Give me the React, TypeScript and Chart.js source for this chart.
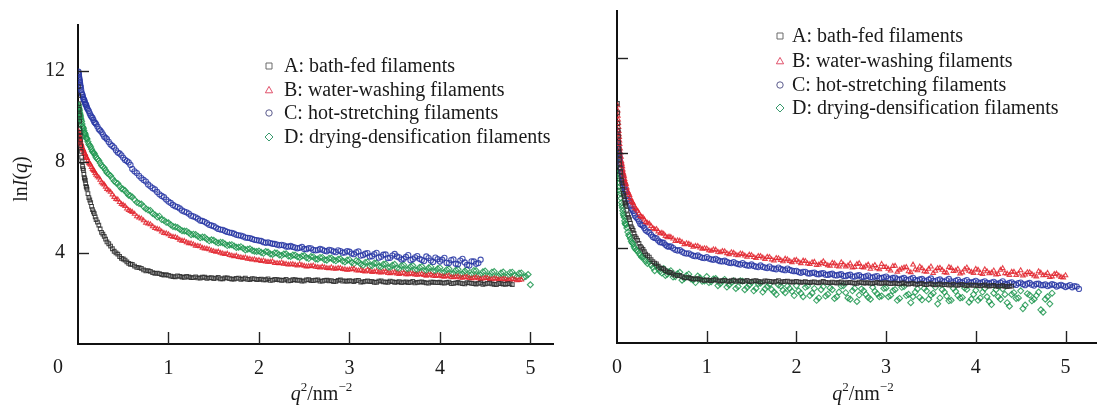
import React, { useEffect, useRef } from "react";
import { Chart, registerables } from "chart.js";

Chart.register(...registerables);

const FONT = "'Liberation Serif', 'Times New Roman', Times, serif";

// q^2 (nm^-2) sampling grid (main samples)
const qGrid = [
  0.005, 0.01, 0.015, 0.02, 0.025, 0.03, 0.04, 0.05, 0.06, 0.07, 0.08, 0.09,
  0.1, 0.12, 0.14, 0.16, 0.18, 0.2, 0.23, 0.26, 0.29, 0.32, 0.36, 0.4, 0.44,
  0.48, 0.52, 0.56, 0.6, 0.65, 0.7, 0.75, 0.8, 0.85, 0.9, 0.95,
  1, 1.05, 1.1, 1.15, 1.2, 1.25, 1.3, 1.35, 1.4, 1.45, 1.5, 1.55, 1.6, 1.65, 1.7, 1.75, 1.8, 1.85, 1.9, 1.95,
  2, 2.05, 2.1, 2.15, 2.2, 2.25, 2.3, 2.35, 2.4, 2.45, 2.5, 2.55, 2.6, 2.65, 2.7, 2.75, 2.8, 2.85, 2.9, 2.95,
  3, 3.05, 3.1, 3.15, 3.2, 3.25, 3.3, 3.35, 3.4, 3.45, 3.5, 3.55, 3.6, 3.65, 3.7, 3.75, 3.8, 3.85, 3.9, 3.95,
  4, 4.05, 4.1, 4.15, 4.2, 4.25, 4.3, 4.35, 4.4, 4.45, 4.5, 4.55, 4.6, 4.65, 4.7, 4.75, 4.8, 4.85, 4.9, 4.95,
  5, 5.05, 5.1, 5.15, 5.2,
];
// in-between samples
const qMid = [
  0.42, 0.46, 0.5, 0.54, 0.58, 0.625, 0.675, 0.725, 0.775, 0.825, 0.875, 0.925, 0.975,
  1.025, 1.075, 1.125, 1.175, 1.225, 1.275, 1.325, 1.375, 1.425, 1.475, 1.525, 1.575, 1.625, 1.675, 1.725, 1.775, 1.825, 1.875, 1.925, 1.975,
  2.025, 2.075, 2.125, 2.175, 2.225, 2.275, 2.325, 2.375, 2.425, 2.475, 2.525, 2.575, 2.625, 2.675, 2.725, 2.775, 2.825, 2.875, 2.925, 2.975,
  3.025, 3.075, 3.125, 3.175, 3.225, 3.275, 3.325, 3.375, 3.425, 3.475, 3.525, 3.575, 3.625, 3.675, 3.725, 3.775, 3.825, 3.875, 3.925, 3.975,
  4.025, 4.075, 4.125, 4.175, 4.225, 4.275, 4.325, 4.375, 4.425, 4.475, 4.525, 4.575, 4.625, 4.675, 4.725, 4.775, 4.825, 4.875, 4.925, 4.975,
  5.025, 5.075, 5.125, 5.175,
];
// extra samples in the steep low-q region
const qEarly = [
  0.0075, 0.0125, 0.0175, 0.0225, 0.0275, 0.035, 0.045, 0.055, 0.065, 0.075, 0.085, 0.095,
  0.11, 0.13, 0.15, 0.17, 0.19, 0.215, 0.245, 0.275, 0.305, 0.34, 0.38,
];

const seriesLabels = [
  "A: bath-fed filaments",
  "B: water-washing filaments",
  "C: hot-stretching filaments",
  "D: drying-densification filaments",
];

const xTickValues = [0, 1, 2, 3, 4, 5];
const yTickValues = [4, 8, 12];

// ---- Left panel: lnI(q) ----
const leftA = [
  11.3, 10.55, 10.05, 9.45, 9.15, 8.7, 8.2, 7.8, 7.62, 7.3, 7.18, 6.92, 6.8, 6.42, 6.2, 5.9, 5.72, 5.46,
  5.22, 4.9, 4.72, 4.48, 4.3, 4.07, 3.94, 3.76, 3.68, 3.54, 3.49, 3.36, 3.32, 3.21, 3.19, 3.1, 3.09, 3.02,
  3.01, 2.96, 2.99, 2.94, 2.97, 2.91, 2.95, 2.89, 2.93, 2.9, 2.87, 2.92, 2.86, 2.9, 2.85, 2.88, 2.84, 2.89, 2.83, 2.86,
  2.84, 2.81, 2.86, 2.8, 2.83, 2.79, 2.84, 2.78, 2.82, 2.8, 2.77, 2.83, 2.78, 2.81, 2.76, 2.8, 2.78, 2.75, 2.81, 2.77,
  2.78, 2.74, 2.79, 2.73, 2.77, 2.75, 2.71, 2.77, 2.72, 2.76, 2.7, 2.74, 2.72, 2.69, 2.75, 2.7, 2.73, 2.68, 2.72, 2.7,
  2.71, 2.67, 2.72, 2.66, 2.7, 2.65, 2.69, 2.66, 2.63, 2.68, 2.64, 2.67, 2.62, 2.66, 2.63, 2.65, 2.61,
];
const leftAMid = [
  4.0, 3.84, 3.73, 3.6, 3.5, 3.42, 3.35, 3.25, 3.22, 3.13, 3.11, 3.05, 3.04,
  2.98, 2.95, 2.97, 2.92, 2.94, 2.91, 2.9, 2.93, 2.88, 2.91, 2.89, 2.86, 2.9, 2.87, 2.85, 2.89, 2.86, 2.84, 2.87, 2.83,
  2.85, 2.82, 2.79, 2.84, 2.81, 2.8, 2.77, 2.82, 2.79, 2.76, 2.81, 2.78, 2.8, 2.76, 2.79, 2.77, 2.74, 2.79, 2.76, 2.75,
  2.76, 2.78, 2.72, 2.75, 2.74, 2.7, 2.76, 2.73, 2.71, 2.74, 2.72, 2.69, 2.73, 2.71, 2.68, 2.72, 2.7, 2.67, 2.71, 2.69,
  2.68, 2.7, 2.65, 2.68, 2.67, 2.64, 2.68, 2.65, 2.66, 2.62, 2.66, 2.64, 2.61, 2.65, 2.62, 2.64,
];
const leftAEarly = [
  10.9, 10.3, 9.78, 9.28, 8.95, 8.45, 8.0, 7.7, 7.45, 7.25, 7.04, 6.87,
  6.6, 6.32, 6.04, 5.8, 5.58, 5.35, 5.05, 4.82, 4.6, 4.4, 4.18,
];
const leftB = [
  9.35, 9.18, 9.12, 8.98, 8.95, 8.82, 8.74, 8.57, 8.52, 8.37, 8.33, 8.19, 8.16, 7.95, 7.86, 7.67, 7.59, 7.42,
  7.3, 7.09, 6.99, 6.8, 6.67, 6.45, 6.34, 6.14, 6.05, 5.87, 5.79, 5.6, 5.5, 5.32, 5.25, 5.08, 5.02, 4.87,
  4.81, 4.7, 4.64, 4.53, 4.46, 4.41, 4.31, 4.28, 4.19, 4.15, 4.07, 4.05, 3.97, 3.96, 3.88, 3.87, 3.8, 3.79, 3.73, 3.71,
  3.68, 3.66, 3.6, 3.62, 3.55, 3.57, 3.51, 3.49, 3.47, 3.5, 3.43, 3.41, 3.44, 3.37, 3.39, 3.33, 3.36, 3.3, 3.33, 3.27,
  3.26, 3.3, 3.22, 3.2, 3.25, 3.15, 3.19, 3.13, 3.17, 3.1, 3.14, 3.07, 3.12, 3.05, 3.08, 3.03, 3.07, 2.99, 3.04, 2.98,
  2.99, 2.95, 3.0, 2.92, 2.96, 2.9, 2.94, 2.87, 2.92, 2.85, 2.9, 2.84, 2.88, 2.82, 2.86, 2.8, 2.85, 2.79, 2.82,
];
const leftBMid = [
  6.36, 6.22, 6.1, 5.94, 5.83, 5.71, 5.54, 5.42, 5.28, 5.16, 5.05, 4.93, 4.85,
  4.73, 4.69, 4.57, 4.52, 4.42, 4.37, 4.3, 4.22, 4.18, 4.1, 4.04, 4.0, 3.94, 3.9, 3.85, 3.81, 3.78, 3.74, 3.7, 3.67,
  3.64, 3.61, 3.6, 3.55, 3.54, 3.52, 3.48, 3.5, 3.44, 3.46, 3.4, 3.42, 3.38, 3.35, 3.36, 3.32, 3.31, 3.33, 3.28, 3.25,
  3.28, 3.23, 3.24, 3.18, 3.2, 3.17, 3.14, 3.16, 3.11, 3.13, 3.09, 3.1, 3.06, 3.09, 3.04, 3.05, 3.02, 3.03, 2.99, 3.01,
  2.97, 2.98, 2.93, 2.95, 2.91, 2.93, 2.89, 2.9, 2.88, 2.87, 2.89, 2.84, 2.86, 2.83, 2.84, 2.81, 2.83, 2.8,
];
const leftBEarly = [
  9.26, 9.15, 9.05, 8.96, 8.88, 8.78, 8.65, 8.54, 8.44, 8.35, 8.26, 8.17,
  8.05, 7.9, 7.76, 7.63, 7.5, 7.36, 7.2, 7.04, 6.9, 6.74, 6.56,
];
const leftC = [
  11.95, 11.82, 11.64, 11.52, 11.37, 11.26, 11.03, 10.92, 10.76, 10.69, 10.55, 10.49, 10.36, 10.22, 10.03, 9.92, 9.74, 9.65,
  9.43, 9.3, 9.1, 8.99, 8.76, 8.62, 8.4, 8.28, 8.08, 7.97, 7.68, 7.5, 7.28, 7.13, 6.92, 6.78, 6.57, 6.44,
  6.25, 6.1, 6.01, 5.86, 5.78, 5.63, 5.56, 5.42, 5.36, 5.23, 5.17, 5.05, 5.01, 4.92, 4.88, 4.79, 4.76, 4.67, 4.65, 4.57,
  4.54, 4.47, 4.46, 4.4, 4.36, 4.35, 4.28, 4.3, 4.23, 4.22, 4.17, 4.21, 4.13, 4.12, 4.14, 4.07, 4.11, 4.03, 4.08, 4.02,
  4.05, 3.94, 4.06, 3.9, 3.99, 3.85, 4.0, 3.83, 3.93, 3.78, 3.95, 3.8, 3.74, 3.9, 3.72, 3.86, 3.69, 3.84, 3.66, 3.79,
  3.62, 3.78, 3.55, 3.71, 3.5, 3.74, 3.47, 3.63, 3.52, 3.7,
];
const leftCMid = [
  8.5, 8.36, 8.17, 8.03, 7.86, 7.58, 7.38, 7.2, 7.0, 6.84, 6.67, 6.5, 6.34,
  6.19, 6.04, 5.95, 5.81, 5.72, 5.6, 5.5, 5.4, 5.3, 5.2, 5.11, 5.02, 4.96, 4.89, 4.84, 4.77, 4.72, 4.66, 4.61, 4.56,
  4.52, 4.44, 4.43, 4.39, 4.33, 4.33, 4.27, 4.26, 4.2, 4.26, 4.16, 4.2, 4.11, 4.17, 4.09, 4.13, 4.06, 4.11, 4.01, 4.08,
  3.97, 4.02, 3.88, 3.96, 3.84, 3.94, 3.79, 3.92, 3.77, 3.88, 3.84, 3.71, 3.82, 3.68, 3.8, 3.74, 3.64, 3.77, 3.6, 3.72,
  3.7, 3.56, 3.68, 3.52, 3.66, 3.58, 3.45, 3.62, 3.55,
];
const leftCEarly = [
  11.88, 11.72, 11.58, 11.45, 11.31, 11.15, 10.97, 10.84, 10.72, 10.62, 10.52, 10.42,
  10.29, 10.12, 9.97, 9.83, 9.7, 9.54, 9.37, 9.2, 9.05, 8.87, 8.69,
];
const leftD = [
  10.5, 10.35, 10.25, 10.1, 10.02, 9.9, 9.76, 9.55, 9.46, 9.28, 9.21, 9.05, 9.0, 8.77, 8.65, 8.45, 8.36, 8.18,
  8.05, 7.83, 7.72, 7.52, 7.38, 7.15, 7.04, 6.82, 6.73, 6.53, 6.45, 6.22, 6.14, 5.94, 5.86, 5.67, 5.61, 5.43,
  5.32, 5.16, 5.11, 4.97, 4.95, 4.8, 4.8, 4.66, 4.68, 4.53, 4.55, 4.43, 4.45, 4.32, 4.36, 4.24, 4.27, 4.13, 4.18, 4.07,
  4.08, 3.98, 4.04, 3.93, 3.99, 3.88, 3.96, 3.84, 3.9, 3.8, 3.88, 3.75, 3.83, 3.72, 3.8, 3.68, 3.77, 3.65, 3.74, 3.6,
  3.7, 3.52, 3.62, 3.45, 3.6, 3.44, 3.56, 3.38, 3.52, 3.36, 3.5, 3.3, 3.47, 3.28, 3.44, 3.25, 3.4, 3.22, 3.38, 3.2,
  3.35, 3.15, 3.3, 3.1, 3.28, 3.08, 3.26, 3.05, 3.22, 3.04, 3.2, 3.0, 3.18, 2.98, 3.16, 2.97, 3.15, 2.95, 3.12, 2.96,
  2.6,
];
const leftDMid = [
  7.08, 6.92, 6.79, 6.63, 6.5, 6.33, 6.17, 6.03, 5.88, 5.73, 5.58, 5.46, 5.34,
  5.23, 5.14, 5.04, 4.96, 4.88, 4.82, 4.73, 4.69, 4.6, 4.57, 4.48, 4.46, 4.39, 4.35, 4.3, 4.25, 4.2, 4.16, 4.11, 4.06,
  4.02, 4.06, 3.95, 4.0, 3.91, 3.95, 3.86, 3.9, 3.83, 3.86, 3.79, 3.84, 3.73, 3.8, 3.7, 3.76, 3.69, 3.72, 3.64, 3.68,
  3.58, 3.66, 3.5, 3.58, 3.42, 3.55, 3.4, 3.5, 3.35, 3.46, 3.32, 3.44, 3.26, 3.4, 3.24, 3.36, 3.2, 3.34, 3.18, 3.3,
  3.12, 3.26, 3.08, 3.24, 3.05, 3.2, 3.02, 3.22, 3.0, 3.17, 2.98, 3.15, 2.96, 3.12, 2.94, 3.14, 3.0, 3.1, 2.92, 3.05,
];
const leftDEarly = [
  10.42, 10.3, 10.17, 10.06, 9.96, 9.83, 9.65, 9.5, 9.37, 9.25, 9.13, 9.02,
  8.88, 8.71, 8.55, 8.4, 8.27, 8.12, 7.94, 7.78, 7.62, 7.45, 7.26,
];

// ---- Right panel: lnI(q) ----
const rightA = [
  10.1, 9.25, 8.72, 8.2, 7.93, 7.55, 7.22, 6.86, 6.63, 6.31, 6.17, 5.92, 5.8, 5.41, 5.2, 4.9, 4.75, 4.5,
  4.33, 4.07, 3.95, 3.75, 3.62, 3.43, 3.34, 3.17, 3.12, 3.0, 2.97, 2.86, 2.85, 2.76, 2.76, 2.69, 2.71, 2.65,
  2.66, 2.63, 2.67, 2.61, 2.64, 2.6, 2.65, 2.62, 2.59, 2.64, 2.6, 2.63, 2.58, 2.62, 2.6, 2.57, 2.63, 2.59, 2.61, 2.57,
  2.6, 2.56, 2.59, 2.55, 2.58, 2.54, 2.6, 2.55, 2.57, 2.53, 2.58, 2.54, 2.56, 2.52, 2.57, 2.53, 2.55, 2.51, 2.56, 2.52,
  2.55, 2.5, 2.53, 2.49, 2.54, 2.48, 2.52, 2.47, 2.51, 2.46, 2.5, 2.45, 2.49, 2.46, 2.44, 2.48, 2.43, 2.47, 2.42, 2.45,
  2.44, 2.41, 2.45, 2.4, 2.43, 2.39, 2.42, 2.38, 2.4,
];
const rightAMid = [
  3.37, 3.24, 3.15, 3.05, 2.98, 2.91, 2.84, 2.8, 2.75, 2.72, 2.7, 2.68, 2.64,
  2.64, 2.65, 2.62, 2.63, 2.61, 2.63, 2.6, 2.62, 2.61, 2.59, 2.62, 2.6, 2.58, 2.61, 2.59, 2.6, 2.57, 2.6, 2.58, 2.58,
  2.58, 2.57, 2.56, 2.57, 2.55, 2.57, 2.56, 2.54, 2.55, 2.56, 2.53, 2.55, 2.54, 2.52, 2.55, 2.53, 2.51, 2.54, 2.52, 2.53,
  2.52, 2.51, 2.5, 2.52, 2.49, 2.5, 2.48, 2.5, 2.47, 2.48, 2.46, 2.47, 2.45, 2.47, 2.45, 2.44, 2.46, 2.43, 2.44, 2.43,
  2.42, 2.43, 2.41, 2.42, 2.4, 2.41, 2.39, 2.4,
];
const rightAEarly = [
  9.7, 8.98, 8.45, 8.06, 7.74, 7.38, 7.04, 6.75, 6.47, 6.24, 6.04, 5.86,
  5.6, 5.3, 5.05, 4.82, 4.62, 4.42, 4.2, 4.01, 3.85, 3.68, 3.52,
];
const rightB = [
  10.02, 9.58, 9.27, 8.93, 8.68, 8.38, 8.03, 7.66, 7.45, 7.18, 7.03, 6.8, 6.7, 6.39, 6.23, 5.99, 5.89, 5.69,
  5.57, 5.35, 5.29, 5.1, 5.03, 4.84, 4.8, 4.62, 4.6, 4.45, 4.46, 4.3, 4.31, 4.16, 4.18, 4.05, 4.08, 3.97,
  3.98, 3.88, 3.93, 3.82, 3.86, 3.74, 3.8, 3.69, 3.75, 3.63, 3.7, 3.58, 3.66, 3.54, 3.62, 3.47, 3.57, 3.44, 3.52, 3.4,
  3.5, 3.36, 3.45, 3.32, 3.42, 3.3, 3.44, 3.27, 3.38, 3.25, 3.4, 3.22, 3.35, 3.2, 3.36, 3.18, 3.3, 3.22, 3.15, 3.33,
  3.2, 3.05, 3.25, 3.08, 3.18, 3.02, 3.3, 3.06, 3.15, 3.0, 3.22, 3.04, 3.17, 2.98, 3.2, 3.03, 3.12, 2.97, 3.18, 3.0,
  3.12, 2.95, 3.1, 2.93, 3.05, 2.9, 3.15, 2.92, 3.0, 2.86, 3.06, 2.88, 2.98, 2.84, 3.02, 2.85, 2.95, 2.8, 2.92, 2.78,
  2.85,
];
const rightBMid = [
  4.79, 4.7, 4.64, 4.51, 4.48, 4.4, 4.32, 4.25, 4.2, 4.13, 4.09, 4.02, 3.99,
  3.9, 3.94, 3.84, 3.87, 3.78, 3.82, 3.72, 3.77, 3.68, 3.72, 3.62, 3.66, 3.6, 3.63, 3.52, 3.58, 3.49, 3.55, 3.45, 3.48,
  3.42, 3.47, 3.35, 3.4, 3.28, 3.37, 3.33, 3.25, 3.35, 3.22, 3.3, 3.26, 3.18, 3.32, 3.2, 3.25, 3.12, 3.28, 3.1, 3.2,
  3.12, 3.24, 3.0, 3.14, 3.2, 2.98, 3.1, 3.22, 3.02, 3.12, 2.95, 3.15, 3.08, 2.96, 3.16, 3.05, 2.92, 3.1, 3.04, 2.95,
  3.08, 2.9, 3.02, 2.96, 2.88, 3.08, 2.94, 2.86, 3.0, 2.92, 2.84, 2.98, 2.9, 2.8, 2.96, 2.86, 2.78, 2.9, 2.84, 2.76,
];
const rightBEarly = [
  9.8, 9.42, 9.1, 8.8, 8.53, 8.2, 7.85, 7.55, 7.31, 7.1, 6.91, 6.75,
  6.55, 6.31, 6.11, 5.94, 5.79, 5.63, 5.46, 5.32, 5.2, 5.06, 4.93,
];
const rightC = [
  8.92, 8.53, 8.33, 8.07, 7.97, 7.77, 7.53, 7.22, 7.06, 6.8, 6.68, 6.46, 6.38, 6.07, 5.92, 5.67, 5.57, 5.37,
  5.24, 5.02, 4.94, 4.75, 4.66, 4.47, 4.41, 4.25, 4.22, 4.08, 4.07, 3.93, 3.92, 3.79, 3.78, 3.68, 3.69, 3.59,
  3.62, 3.53, 3.55, 3.45, 3.47, 3.38, 3.41, 3.33, 3.37, 3.27, 3.31, 3.22, 3.27, 3.18, 3.22, 3.13, 3.18, 3.09, 3.14, 3.05,
  3.04, 2.96, 3.0, 2.93, 2.97, 2.9, 2.95, 2.87, 2.92, 2.85, 2.9, 2.82, 2.88, 2.8, 2.86, 2.78, 2.84, 2.76, 2.82, 2.74,
  2.8, 2.68, 2.76, 2.66, 2.74, 2.64, 2.75, 2.62, 2.7, 2.6, 2.72, 2.6, 2.68, 2.58, 2.7, 2.56, 2.66, 2.55, 2.65, 2.54,
  2.62, 2.52, 2.6, 2.5, 2.58, 2.48, 2.6, 2.47, 2.56, 2.45, 2.55, 2.44, 2.53, 2.42, 2.5, 2.44, 2.4, 2.48, 2.38, 2.45,
  2.36, 2.44, 2.4, 2.28,
];
const rightCMid = [
  4.43, 4.32, 4.24, 4.14, 4.06, 4.0, 3.9, 3.85, 3.77, 3.73, 3.66, 3.63, 3.58,
  3.56, 3.51, 3.49, 3.44, 3.42, 3.37, 3.36, 3.31, 3.3, 3.26, 3.25, 3.2, 3.21, 3.16, 3.15, 3.11, 3.12, 3.07, 3.08, 3.03,
  2.99, 3.0, 2.94, 2.96, 2.91, 2.93, 2.88, 2.9, 2.86, 2.88, 2.83, 2.86, 2.8, 2.84, 2.79, 2.81, 2.77, 2.8, 2.73, 2.77,
  2.72, 2.74, 2.69, 2.71, 2.67, 2.7, 2.66, 2.68, 2.63, 2.67, 2.62, 2.65, 2.61, 2.64, 2.6, 2.62, 2.58, 2.61, 2.57, 2.58,
  2.56, 2.57, 2.53, 2.55, 2.51, 2.54, 2.5, 2.53, 2.49, 2.52, 2.48, 2.5, 2.46, 2.49, 2.44, 2.47, 2.43, 2.45, 2.42, 2.41,
  2.4, 2.35, 2.38,
];
const rightCEarly = [
  8.72, 8.43, 8.2, 8.02, 7.87, 7.65, 7.37, 7.14, 6.93, 6.74, 6.57, 6.42,
  6.22, 6.0, 5.8, 5.62, 5.47, 5.3, 5.13, 4.98, 4.85, 4.7, 4.56,
];
const rightD = [
  8.6, 7.95, 7.6, 7.15, 6.95, 6.6, 6.3, 5.92, 5.7, 5.45, 5.3, 5.05, 4.98, 4.68, 4.5, 4.28, 4.18, 3.98,
  3.88, 3.7, 3.64, 3.44, 3.42, 3.18, 3.25, 3.02, 3.14, 2.9, 3.05, 2.8, 2.98, 2.72, 2.9, 2.66, 2.82, 2.6,
  2.8, 2.58, 2.72, 2.5, 2.68, 2.45, 2.62, 2.38, 2.6, 2.35, 2.55, 2.3, 2.52, 2.28, 2.48, 2.15, 2.45, 2.22, 2.4, 2.18,
  2.42, 2.1, 2.35, 2.0, 2.3, 1.9, 2.38, 2.05, 2.25, 1.95, 2.4, 2.12, 1.85, 2.3, 2.02, 2.2, 1.92, 2.35, 2.08, 1.98,
  2.32, 2.0, 2.25, 1.88, 2.38, 2.05, 1.95, 2.28, 1.82, 2.2, 2.02, 2.35, 1.9, 2.15, 1.78, 2.3, 2.0, 1.92, 2.26, 1.85,
  2.22, 1.9, 2.3, 1.75, 2.1, 1.95, 2.28, 1.7, 2.05, 1.88, 2.2, 1.6, 2.02, 1.85, 2.15, 1.3, 1.95, 2.1,
];
const rightDMid = [
  3.05, 3.12, 2.95, 2.85, 3.0, 2.78, 2.92, 2.65, 2.85, 2.7, 2.55, 2.75, 2.62,
  2.55, 2.7, 2.42, 2.6, 2.36, 2.55, 2.3, 2.62, 2.25, 2.45, 2.2, 2.5, 2.15, 2.38, 2.25, 2.05, 2.4, 2.12, 2.3, 2.0,
  2.2, 1.95, 2.4, 2.1, 1.8, 2.25, 1.98, 2.32, 1.88, 2.15, 2.42, 1.9, 2.2, 1.75, 2.28, 2.05, 1.85, 2.18, 1.95, 2.3,
  1.95, 2.2, 1.8, 2.35, 2.0, 1.7, 2.15, 1.92, 2.3, 1.85, 2.1, 1.65, 2.25, 1.98, 1.8, 2.18, 1.9, 2.32, 1.72, 2.05,
  1.8, 2.15, 1.95, 1.62, 2.25, 1.85, 2.05, 1.55, 2.12, 1.9, 1.45, 2.08, 1.78, 2.0, 1.4, 1.85, 1.65,
];
const rightDEarly = [
  8.25, 7.8, 7.35, 7.05, 6.75, 6.42, 6.1, 5.8, 5.58, 5.38, 5.15, 5.02,
  4.85, 4.55, 4.4, 4.22, 4.06, 3.92, 3.78, 3.62, 3.55, 3.35, 3.28,
];

const pointColors = [
  "rgba(45,45,45,0.85)",
  "rgba(226,35,45,0.85)",
  "rgba(40,55,165,0.85)",
  "rgba(30,150,80,0.85)",
];
const legendColors = ["#6a6a6a", "#e0506a", "#5a5a8c", "#3a9a6e"];
const markerStyles = ["rect", "triangle", "circle", "rectRot"];

type LegendSpec = { markerX: number; textX: number; rows: number[] };

type PanelProps = {
  left: number;
  width: number;
  height: number;
  series: number[][];
  seriesMid: number[][];
  seriesEarly: number[][];
  xMax: number;
  padding: { top: number; right: number; left: number; bottom: number };
  yAxisWidth: number;
  xAxisHeight: number;
  showYLabels: boolean;
  originLabelX: number | null;
  legend: LegendSpec;
};

function drawMarker(ctx: CanvasRenderingContext2D, kind: number, x: number, y: number) {
  ctx.beginPath();
  if (kind === 0) {
    ctx.rect(x - 3, y - 3, 6, 6);
  } else if (kind === 1) {
    ctx.moveTo(x, y - 3.6);
    ctx.lineTo(x + 3.6, y + 2.8);
    ctx.lineTo(x - 3.6, y + 2.8);
    ctx.closePath();
  } else if (kind === 2) {
    ctx.arc(x, y, 3.2, 0, Math.PI * 2);
  } else {
    ctx.moveTo(x, y - 4);
    ctx.lineTo(x + 4, y);
    ctx.lineTo(x, y + 4);
    ctx.lineTo(x - 4, y);
    ctx.closePath();
  }
  ctx.stroke();
}

function drawParts(
  ctx: CanvasRenderingContext2D,
  parts: { t: string; f: string; dy: number }[],
  cx: number,
  baseline: number
) {
  let total = 0;
  for (const p of parts) {
    ctx.font = p.f;
    total += ctx.measureText(p.t).width;
  }
  let x = cx - total / 2;
  ctx.textAlign = "left";
  ctx.textBaseline = "alphabetic";
  for (const p of parts) {
    ctx.font = p.f;
    ctx.fillText(p.t, x, baseline + p.dy);
    x += ctx.measureText(p.t).width;
  }
}

function ScatterPanel(props: PanelProps) {
  const ref = useRef<HTMLCanvasElement>(null);
  useEffect(() => {
    const canvas = ref.current;
    if (!canvas) return;
    const overlay = {
      id: "overlay",
      afterDraw(chart: any) {
        const ctx: CanvasRenderingContext2D = chart.ctx;
        const xs = chart.scales.x;
        const ys = chart.scales.y;
        const { left, bottom, right } = chart.chartArea;
        ctx.save();
        ctx.strokeStyle = "#222";
        ctx.lineWidth = 1.4;
        for (const v of xTickValues) {
          if (v === 0) continue;
          const px = Math.round(xs.getPixelForValue(v)) + 0.5;
          ctx.beginPath();
          ctx.moveTo(px, bottom);
          ctx.lineTo(px, bottom - 12);
          ctx.stroke();
        }
        for (const v of yTickValues) {
          const py = Math.round(ys.getPixelForValue(v)) + 0.5;
          ctx.beginPath();
          ctx.moveTo(left, py);
          ctx.lineTo(left + 11, py);
          ctx.stroke();
        }
        ctx.fillStyle = "#1a1a1a";
        if (props.originLabelX !== null) {
          ctx.font = `20px ${FONT}`;
          ctx.textAlign = "center";
          ctx.textBaseline = "middle";
          ctx.fillText("0", props.originLabelX, 368);
        }
        const big = `20px ${FONT}`;
        const it = `italic 20px ${FONT}`;
        const sm = `13px ${FONT}`;
        drawParts(
          ctx,
          [
            { t: "q", f: it, dy: 0 },
            { t: "2", f: sm, dy: -9 },
            { t: "/nm", f: big, dy: 0 },
            { t: "\u22122", f: sm, dy: -9 },
          ],
          (left + right) / 2 + 6,
          400
        );
        if (props.showYLabels) {
          ctx.save();
          ctx.translate(27, 179);
          ctx.rotate(-Math.PI / 2);
          drawParts(
            ctx,
            [
              { t: "ln", f: big, dy: 0 },
              { t: "I", f: it, dy: 0 },
              { t: "(", f: big, dy: 0 },
              { t: "q", f: it, dy: 0 },
              { t: ")", f: big, dy: 0 },
            ],
            0,
            0
          );
          ctx.restore();
        }
        const lg = props.legend;
        for (let k = 0; k < seriesLabels.length; k++) {
          const y = lg.rows[k];
          ctx.strokeStyle = legendColors[k];
          ctx.lineWidth = 1;
          drawMarker(ctx, k, lg.markerX, y);
          ctx.fillStyle = "#1a1a1a";
          ctx.font = `20px ${FONT}`;
          ctx.textAlign = "left";
          ctx.textBaseline = "middle";
          ctx.fillText(seriesLabels[k], lg.textX, y + 1);
        }
        ctx.restore();
      },
    };

    const datasets = props.series.map((vals, k) => ({
      label: seriesLabels[k],
      data: [
        ...vals.map((y, i) => ({ x: qGrid[i], y })),
        ...props.seriesMid[k].map((y, i) => ({ x: qMid[i], y })),
        ...props.seriesEarly[k].map((y, i) => ({ x: qEarly[i], y })),
      ],
      pointStyle: markerStyles[k],
      pointRadius: k === 3 ? 3 : 2.6,
      pointHoverRadius: 2.6,
      pointBorderWidth: 1.1,
      borderColor: pointColors[k],
      backgroundColor: "rgba(0,0,0,0)",
      showLine: false,
    }));

    const chart = new Chart(canvas, {
      type: "scatter",
      data: { datasets },
      options: {
        animation: false,
        responsive: false,
        maintainAspectRatio: false,
        events: [],
        layout: { padding: props.padding },
        plugins: { legend: { display: false }, tooltip: { enabled: false } },
        scales: {
          x: {
            type: "linear",
            min: 0,
            max: props.xMax,
            afterBuildTicks: (s: any) => {
              s.ticks = xTickValues.map((v) => ({ value: v }));
            },
            afterFit: (s: any) => {
              s.height = props.xAxisHeight;
            },
            grid: { drawOnChartArea: false, drawTicks: false },
            border: { display: true, color: "#111", width: 2 },
            ticks: {
              padding: 13,
              color: "#1a1a1a",
              font: { family: FONT, size: 20 },
              autoSkip: false,
              maxRotation: 0,
              callback: (v: any) => (props.originLabelX !== null && v === 0 ? "" : String(v)),
            },
          },
          y: {
            type: "linear",
            min: 0,
            max: 14,
            afterBuildTicks: (s: any) => {
              s.ticks = yTickValues.map((v) => ({ value: v }));
            },
            afterFit: (s: any) => {
              s.width = props.yAxisWidth;
            },
            grid: { drawOnChartArea: false, drawTicks: false },
            border: { display: true, color: "#111", width: 2 },
            ticks: {
              display: props.showYLabels,
              padding: 13,
              color: "#1a1a1a",
              font: { family: FONT, size: 20 },
              callback: (v: any) => String(v),
            },
          },
        },
      },
      plugins: [overlay],
    } as any);
    return () => chart.destroy();
  }, []);
  return (
    <canvas
      ref={ref}
      width={props.width}
      height={props.height}
      style={{ position: "absolute", left: props.left, top: 0, width: props.width, height: props.height }}
    />
  );
}

export default function App() {
  return (
    <div style={{ position: "absolute", left: 0, top: 0, width: 1101, height: 406, background: "#fff" }}>
      <ScatterPanel
        left={0}
        width={560}
        height={406}
        series={[leftA, leftB, leftC, leftD]}
        seriesMid={[leftAMid, leftBMid, leftCMid, leftDMid]}
        seriesEarly={[leftAEarly, leftBEarly, leftCEarly, leftDEarly]}
        xMax={5.25}
        padding={{ top: 12, right: 7, left: 0, bottom: 0 }}
        yAxisWidth={78}
        xAxisHeight={62}
        showYLabels={true}
        originLabelX={58}
        legend={{ markerX: 269, textX: 284, rows: [66, 90, 113, 137] }}
      />
      <ScatterPanel
        left={560}
        width={541}
        height={406}
        series={[rightA, rightB, rightC, rightD]}
        seriesMid={[rightAMid, rightBMid, rightCMid, rightDMid]}
        seriesEarly={[rightAEarly, rightBEarly, rightCEarly, rightDEarly]}
        xMax={5.35}
        padding={{ top: 11, right: 0, left: 0, bottom: 0 }}
        yAxisWidth={57}
        xAxisHeight={63}
        showYLabels={false}
        originLabelX={null}
        legend={{ markerX: 220, textX: 232, rows: [36, 61, 85, 108] }}
      />
    </div>
  );
}
